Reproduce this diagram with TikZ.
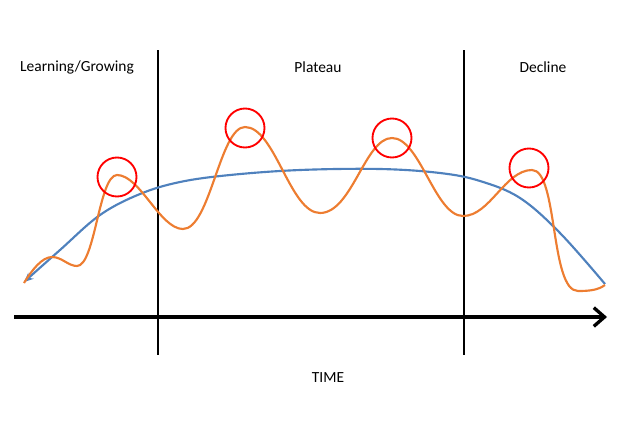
\documentclass[tikz,border=0pt]{standalone}
\usepackage{fontspec}
\setmainfont{Carlito}
\usetikzlibrary{arrows.meta}
\definecolor{cblue}{RGB}{79,129,189}
\definecolor{corange}{RGB}{237,125,49}
\begin{document}
\begin{tikzpicture}[x=0.75pt,y=-0.75pt,
  lbl/.style={font=\fontsize{11.6}{14}\selectfont, inner sep=0pt},
  sep/.style={line width=1.5pt, black},
  peak/.style={draw=red, line width=1.4pt},
  curveb/.style={cblue, line width=1.6pt},
  curveo/.style={corange, line width=1.6pt}]
\useasboundingbox (0,0) rectangle (621,436);
% labels
\node[lbl] (l1) at (77,67) {Learning/Growing};
\node[lbl] (l2) at (318,67) {Plateau};
\node[lbl] (l3) at (543,67) {Decline};
\node[lbl] (t) at (328,378) {TIME};
% separators
\coordinate (s1a) at (158,50); \coordinate (s1b) at (158,355);
\coordinate (s2a) at (464,50); \coordinate (s2b) at (464,355);
\draw[sep] (s1a) -- (s1b);
\draw[sep] (s2a) -- (s2b);
% axis
\coordinate (ax0) at (14,317); \coordinate (ax1) at (607,317);
\draw[line width=2.5pt, -{Straight Barb[length=8pt,width=14pt,line width=2.5pt]}] (ax0) -- (ax1);
% blue curve
\draw[curveb, {Stealth[length=7pt,width=6pt]}-] plot[smooth, tension=0.6] coordinates {
 (24,282) (60,250) (100,215) (140,194) (180,182) (230,175) (300,170) (380,169) (440,173) (480,181) (520,198) (560,233) (605,284)};
% orange curve
\draw[curveo] (24,283) .. controls (32,270) and (42,257) .. (52,257)
  .. controls (62,257) and (68,266) .. (77,266)
  .. controls (95,266) and (99,175) .. (117,175)
  .. controls (140,175) and (160,229) .. (183,229)
  .. controls (210,229) and (220,127) .. (245,127)
  .. controls (275,127) and (290,213) .. (320,213)
  .. controls (352,213) and (365,138) .. (392,138)
  .. controls (420,138) and (435,216) .. (463,216)
  .. controls (490,216) and (505,170) .. (532,170)
  .. controls (558,170) and (550,291) .. (578,291)
  .. controls (590,291) and (598,290) .. (605,285);
% circles
\draw[peak] (117,177) circle (19.5);
\draw[peak] (245,128) circle (19.5);
\draw[peak] (392,138) circle (19.5);
\draw[peak] (529,168) circle (19.5);
\end{tikzpicture}
\end{document}
